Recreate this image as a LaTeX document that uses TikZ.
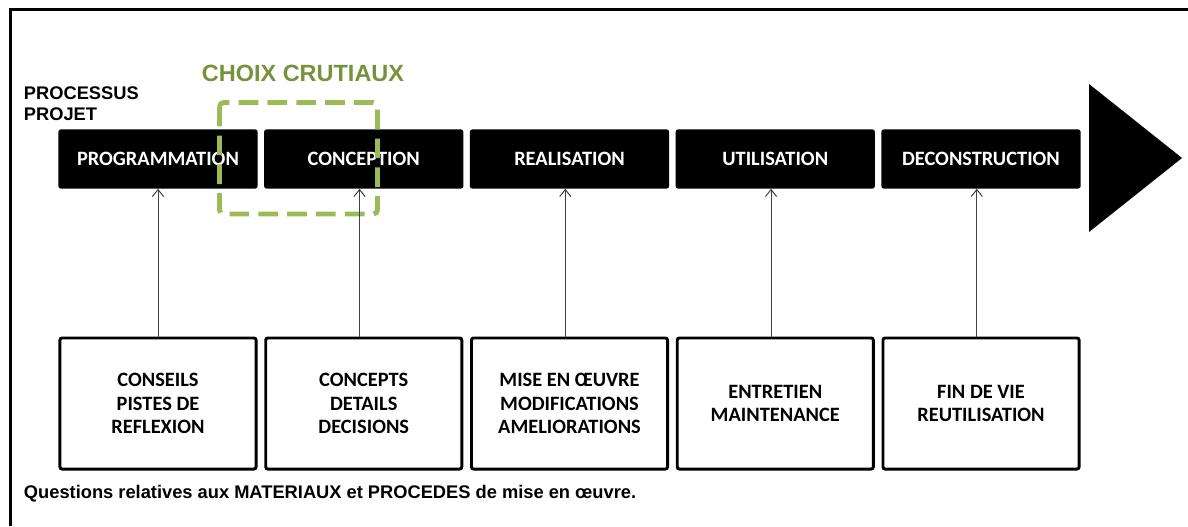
\documentclass[tikz,border=0pt]{standalone}
\usepackage{fontspec}
\setmainfont{Liberation Sans}
\newfontfamily\calibri{Carlito}
\usepackage{tikz}
\usetikzlibrary{arrows.meta, positioning}
\definecolor{choixgreen}{HTML}{9BBB59}
\definecolor{choixtext}{HTML}{76923C}
\definecolor{linkgray}{HTML}{404040}

\begin{document}
\begin{tikzpicture}[x=0.025cm, y=-0.025cm,
    phase box/.style={fill=black, rounded corners=1.5pt,
                      minimum width=4.975cm, minimum height=1.475cm,
                      text=white, font=\calibri\bfseries\fontsize{14.5}{16}\selectfont},
    detail box/.style={draw=black, line width=2.1pt, rounded corners=1.5pt,
                       minimum width=4.9cm, minimum height=3.275cm, align=center,
                       font=\calibri\bfseries\fontsize{14.5}{16.8}\selectfont},
    link/.style={-{Straight Barb[length=5pt, width=8pt]}, linkgray, line width=0.7pt},
]
    \useasboundingbox (0,0) rectangle (1188,526);

    % Frame
    \draw[line width=2pt] (10.5,526) -- (10.5,9.5) -- (1188,9.5);

    % Titles
    \node[anchor=west, align=left, font=\bfseries\fontsize{13}{15}\selectfont] (processus) at (19,104) {PROCESSUS\\PROJET};
    \node[text=choixtext, font=\bfseries\fontsize{16.7}{18}\selectfont] (choix) at (303,73) {CHOIX CRUTIAUX};

    % Phases
    \node[phase box] (p1) at (158,159) {PROGRAMMATION};
    \node[phase box] (p2) at (363.75,159) {CONCEPTION};
    \node[phase box] (p3) at (569.5,159) {REALISATION};
    \node[phase box] (p4) at (775.25,159) {UTILISATION};
    \node[phase box] (p5) at (981,159) {DECONSTRUCTION};

    % Direction of the process
    \fill (1089,84) -- (1182,158) -- (1089,232) -- cycle;

    % Critical choices
    \draw[choixgreen, line width=3.5pt, dash pattern=on 14pt off 6.5pt, rounded corners=3pt]
        (219.5,102.5) rectangle (377.5,214);

    % Details
    \node[detail box] (d1) at (158,403.5) {CONSEILS\\PISTES DE\\REFLEXION};
    \node[detail box] (d2) at (363.75,403.5) {CONCEPTS\\DETAILS\\DECISIONS};
    \node[detail box] (d3) at (569.5,403.5) {MISE EN ŒUVRE\\MODIFICATIONS\\AMELIORATIONS};
    \node[detail box] (d4) at (775.25,403.5) {ENTRETIEN\\MAINTENANCE};
    \node[detail box] (d5) at (981,403.5) {FIN DE VIE\\REUTILISATION};

    % Arrows
    \draw[link] (d1.north) -- (p1.south);
    \draw[link] ([xshift=-3pt]d2.north) -- ([xshift=-3pt]p2.south);
    \draw[link] ([xshift=-3pt]d3.north) -- ([xshift=-3pt]p3.south);
    \draw[link] ([xshift=-3pt]d4.north) -- ([xshift=-3pt]p4.south);
    \draw[link] ([xshift=-3pt]d5.north) -- ([xshift=-3pt]p5.south);

    \node[anchor=west, font=\bfseries\fontsize{13}{15}\selectfont] (note) at (19,494)
        {Questions relatives aux MATERIAUX et PROCEDES de mise en œuvre.};
\end{tikzpicture}
\end{document}
